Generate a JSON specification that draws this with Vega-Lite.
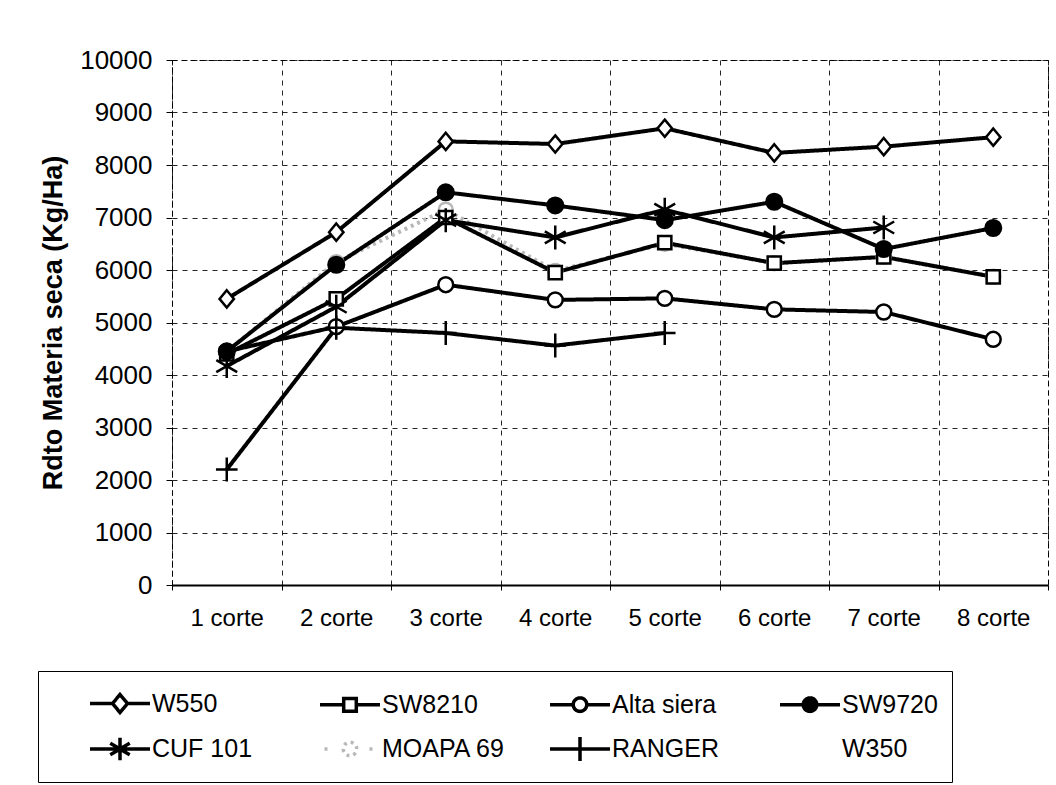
{
  "$schema": "https://vega.github.io/schema/vega-lite/v6.json",
  "width": 876,
  "height": 525,
  "autosize": {"type": "none"},
  "padding": {"left": 172, "top": 60, "right": 8, "bottom": 200},
  "background": "white",
  "config": {
    "font": "Liberation Sans",
    "view": {"stroke": "black", "strokeDash": [5, 4], "strokeWidth": 1},
    "axis": {
      "gridColor": "black",
      "gridDash": [5, 5],
      "gridWidth": 1,
      "gridOpacity": 0.85,
      "labelColor": "black",
      "titleColor": "black",
      "tickColor": "black",
      "domainColor": "black"
    },
    "legend": {
      "orient": "none",
      "legendX": -134,
      "legendY": 611,
      "title": null,
      "columns": 4,
      "direction": "horizontal",
      "gridAlign": "all",
      "columnPadding": 6,
      "rowPadding": 9,
      "padding": 14,
      "symbolSize": 900,
      "symbolOffset": 51,
      "symbolStrokeWidth": 3.5,
      "symbolOpacity": 1,
      "labelOffset": 15,
      "labelFontSize": 25,
      "labelColor": "black",
      "labelLimit": 300,
      "strokeColor": "black"
    }
  },
  "data": {
    "values": [
      {"variedad": "W550", "corte": "1 corte", "rdto": 5450},
      {"variedad": "W550", "corte": "2 corte", "rdto": 6720},
      {"variedad": "W550", "corte": "3 corte", "rdto": 8450},
      {"variedad": "W550", "corte": "4 corte", "rdto": 8400},
      {"variedad": "W550", "corte": "5 corte", "rdto": 8700},
      {"variedad": "W550", "corte": "6 corte", "rdto": 8230},
      {"variedad": "W550", "corte": "7 corte", "rdto": 8350},
      {"variedad": "W550", "corte": "8 corte", "rdto": 8530},
      {"variedad": "MOAPA 69", "corte": "1 corte", "rdto": 4450},
      {"variedad": "MOAPA 69", "corte": "2 corte", "rdto": 6150},
      {"variedad": "MOAPA 69", "corte": "3 corte", "rdto": 7150},
      {"variedad": "MOAPA 69", "corte": "4 corte", "rdto": 5980},
      {"variedad": "MOAPA 69", "corte": "5 corte", "rdto": 6500},
      {"variedad": "MOAPA 69", "corte": "6 corte", "rdto": 6130},
      {"variedad": "MOAPA 69", "corte": "7 corte", "rdto": 6250},
      {"variedad": "MOAPA 69", "corte": "8 corte", "rdto": 5870},
      {"variedad": "SW8210", "corte": "1 corte", "rdto": 4400},
      {"variedad": "SW8210", "corte": "2 corte", "rdto": 5450},
      {"variedad": "SW8210", "corte": "3 corte", "rdto": 7000},
      {"variedad": "SW8210", "corte": "4 corte", "rdto": 5950},
      {"variedad": "SW8210", "corte": "5 corte", "rdto": 6520},
      {"variedad": "SW8210", "corte": "6 corte", "rdto": 6130},
      {"variedad": "SW8210", "corte": "7 corte", "rdto": 6250},
      {"variedad": "SW8210", "corte": "8 corte", "rdto": 5870},
      {"variedad": "Alta siera", "corte": "1 corte", "rdto": 4450},
      {"variedad": "Alta siera", "corte": "2 corte", "rdto": 4920},
      {"variedad": "Alta siera", "corte": "3 corte", "rdto": 5720},
      {"variedad": "Alta siera", "corte": "4 corte", "rdto": 5430},
      {"variedad": "Alta siera", "corte": "5 corte", "rdto": 5460},
      {"variedad": "Alta siera", "corte": "6 corte", "rdto": 5250},
      {"variedad": "Alta siera", "corte": "7 corte", "rdto": 5200},
      {"variedad": "Alta siera", "corte": "8 corte", "rdto": 4680},
      {"variedad": "SW9720", "corte": "1 corte", "rdto": 4450},
      {"variedad": "SW9720", "corte": "2 corte", "rdto": 6100},
      {"variedad": "SW9720", "corte": "3 corte", "rdto": 7480},
      {"variedad": "SW9720", "corte": "4 corte", "rdto": 7230},
      {"variedad": "SW9720", "corte": "5 corte", "rdto": 6950},
      {"variedad": "SW9720", "corte": "6 corte", "rdto": 7300},
      {"variedad": "SW9720", "corte": "7 corte", "rdto": 6400},
      {"variedad": "SW9720", "corte": "8 corte", "rdto": 6800},
      {"variedad": "CUF 101", "corte": "1 corte", "rdto": 4170},
      {"variedad": "CUF 101", "corte": "2 corte", "rdto": 5300},
      {"variedad": "CUF 101", "corte": "3 corte", "rdto": 6950},
      {"variedad": "CUF 101", "corte": "4 corte", "rdto": 6620},
      {"variedad": "CUF 101", "corte": "5 corte", "rdto": 7150},
      {"variedad": "CUF 101", "corte": "6 corte", "rdto": 6620},
      {"variedad": "CUF 101", "corte": "7 corte", "rdto": 6810},
      {"variedad": "RANGER", "corte": "1 corte", "rdto": 2200},
      {"variedad": "RANGER", "corte": "2 corte", "rdto": 4900},
      {"variedad": "RANGER", "corte": "3 corte", "rdto": 4800},
      {"variedad": "RANGER", "corte": "4 corte", "rdto": 4560},
      {"variedad": "RANGER", "corte": "5 corte", "rdto": 4800}
    ]
  },
  "encoding": {
    "x": {
      "field": "corte",
      "type": "ordinal",
      "sort": ["1 corte", "2 corte", "3 corte", "4 corte", "5 corte", "6 corte", "7 corte", "8 corte"],
      "scale": {"type": "band", "paddingInner": 0, "paddingOuter": 0},
      "bandPosition": 0.5,
      "axis": {
        "title": null,
        "labelAngle": 0,
        "labelFontSize": 24,
        "labelPadding": 16,
        "tickBand": "extent",
        "tickSize": 5,
        "grid": true,
        "domainWidth": 2
      }
    },
    "y": {
      "field": "rdto",
      "type": "quantitative",
      "scale": {"domain": [0, 10000]},
      "axis": {
        "title": "Rdto Materia seca (Kg/Ha)",
        "titleFontSize": 27,
        "titleFontWeight": "bold",
        "titlePadding": 12,
        "values": [0, 1000, 2000, 3000, 4000, 5000, 6000, 7000, 8000, 9000, 10000],
        "format": "d",
        "labelFontSize": 26,
        "labelPadding": 14,
        "tickSize": 6,
        "grid": true,
        "domainDash": [5, 4]
      }
    }
  },
  "layer": [
    {
      "mark": {"type": "line", "strokeWidth": 4},
      "encoding": {
        "stroke": {
          "field": "variedad",
          "type": "nominal",
          "scale": {
            "domain": ["W550", "SW8210", "Alta siera", "SW9720", "CUF 101", "MOAPA 69", "RANGER", "W350"],
            "range": ["black", "black", "black", "black", "black", "#b8b8b8", "black", "transparent"]
          }
        },
        "strokeDash": {
          "field": "variedad",
          "type": "nominal",
          "scale": {
            "domain": ["W550", "SW8210", "Alta siera", "SW9720", "CUF 101", "MOAPA 69", "RANGER", "W350"],
            "range": [[1, 0], [1, 0], [1, 0], [1, 0], [1, 0], [3, 4], [1, 0], [1, 0]]
          }
        }
      }
    },
    {
      "mark": {"type": "point", "size": 900, "filled": true, "opacity": 0},
      "encoding": {
        "shape": {
          "field": "variedad",
          "type": "nominal",
          "scale": {
            "domain": ["W550", "SW8210", "Alta siera", "SW9720", "CUF 101", "MOAPA 69", "RANGER", "W350"],
            "range": [
              "M-2,0H-0.5M0.5,0H2M0,-0.6L0.5,0L0,0.6L-0.5,0Z",
              "M-2,0H-0.42M0.42,0H2M-0.42,-0.42H0.42V0.42H-0.42Z",
              "M-2,0H-0.45M0.45,0H2M-0.45,0A0.45,0.45,0,1,0,0.45,0A0.45,0.45,0,1,0,-0.45,0Z",
              "M-2,0H-0.45M0.45,0H2M-0.45,0A0.45,0.45,0,1,0,0.45,0A0.45,0.45,0,1,0,-0.45,0Z",
              "M-2,0H2M0,-0.75V0.75M-0.65,-0.38L0.65,0.38M-0.65,0.38L0.65,-0.38",
              "M-1.7,0H-1.3M-0.45,0A0.45,0.45,0,1,0,0.45,0A0.45,0.45,0,1,0,-0.45,0ZM1.3,0H1.7",
              "M-2,0H2M0,-0.8V0.8",
              "M0,0Z"
            ]
          }
        },
        "fill": {
          "field": "variedad",
          "type": "nominal",
          "scale": {
            "domain": ["W550", "SW8210", "Alta siera", "SW9720", "CUF 101", "MOAPA 69", "RANGER", "W350"],
            "range": ["white", "white", "white", "black", "white", "white", "white", "white"]
          }
        },
        "stroke": {"field": "variedad", "type": "nominal"}
      }
    },
    {
      "transform": [{"filter": {"field": "variedad", "equal": "MOAPA 69"}}],
      "mark": {"type": "point", "size": 576, "strokeWidth": 2.5, "filled": true, "opacity": 1, "fill": "white", "stroke": "#b8b8b8",
               "shape": "M-0.58,0A0.58,0.58,0,1,0,0.58,0A0.58,0.58,0,1,0,-0.58,0Z"}
    },
    {
      "transform": [{"filter": {"field": "variedad", "equal": "W550"}}],
      "mark": {"type": "point", "size": 576, "strokeWidth": 2.5, "filled": true, "opacity": 1, "fill": "white", "stroke": "black",
               "shape": "M0,-0.72L0.6,0L0,0.72L-0.6,0Z"}
    },
    {
      "transform": [{"filter": {"field": "variedad", "equal": "SW8210"}}],
      "mark": {"type": "point", "size": 576, "strokeWidth": 2.5, "filled": true, "opacity": 1, "fill": "white", "stroke": "black",
               "shape": "M-0.55,-0.55H0.55V0.55H-0.55Z"}
    },
    {
      "transform": [{"filter": {"field": "variedad", "equal": "Alta siera"}}],
      "mark": {"type": "point", "size": 576, "strokeWidth": 2.5, "filled": true, "opacity": 1, "fill": "white", "stroke": "black",
               "shape": "M-0.62,0A0.62,0.62,0,1,0,0.62,0A0.62,0.62,0,1,0,-0.62,0Z"}
    },
    {
      "transform": [{"filter": {"field": "variedad", "equal": "SW9720"}}],
      "mark": {"type": "point", "size": 576, "strokeWidth": 2.5, "filled": true, "opacity": 1, "fill": "black", "stroke": "black",
               "shape": "M-0.65,0A0.65,0.65,0,1,0,0.65,0A0.65,0.65,0,1,0,-0.65,0Z"}
    },
    {
      "transform": [{"filter": {"field": "variedad", "equal": "CUF 101"}}],
      "mark": {"type": "point", "size": 576, "strokeWidth": 2.5, "filled": true, "opacity": 1, "fill": "white", "stroke": "black",
               "shape": "M0,-1V1M-0.87,-0.5L0.87,0.5M-0.87,0.5L0.87,-0.5"}
    },
    {
      "transform": [{"filter": {"field": "variedad", "equal": "RANGER"}}],
      "mark": {"type": "point", "size": 576, "strokeWidth": 2.5, "filled": true, "opacity": 1, "fill": "white", "stroke": "black",
               "shape": "M0,-1V1M-0.9,0H0.9"}
    }
  ]
}
